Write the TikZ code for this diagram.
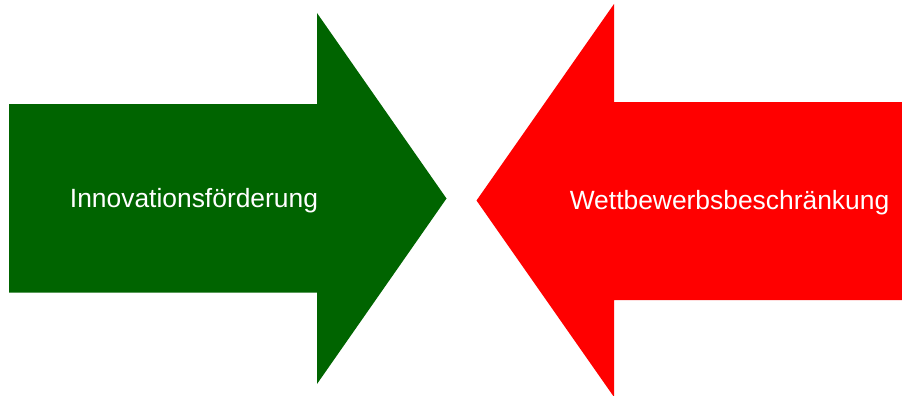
\documentclass[tikz,border=0pt]{standalone}
\usepackage{fontspec}
\setmainfont{Liberation Sans}
\definecolor{arrowgreen}{HTML}{006400}
\definecolor{arrowred}{HTML}{FF0000}
\begin{document}
\begin{tikzpicture}[x=1pt,y=-1pt,
  lbl/.style={text=white,font=\fontsize{26.4}{30}\selectfont,inner sep=0pt}]
\useasboundingbox (0,0) rectangle (902,396);
\fill[arrowgreen] (9,104) -- (317,104) -- (317,13) -- (446.5,198.5) -- (317,384) -- (317,292.5) -- (9,292.5) -- cycle;
\fill[arrowred] (902,102) -- (614,102) -- (614,4) -- (476.5,200.5) -- (614,397) -- (614,300) -- (902,300) -- cycle;
\node[lbl] (inno) at (194,201) {Innovationsförderung};
\node[lbl] (wett) at (729.5,203) {Wettbewerbsbeschränkung};
\end{tikzpicture}
\end{document}
